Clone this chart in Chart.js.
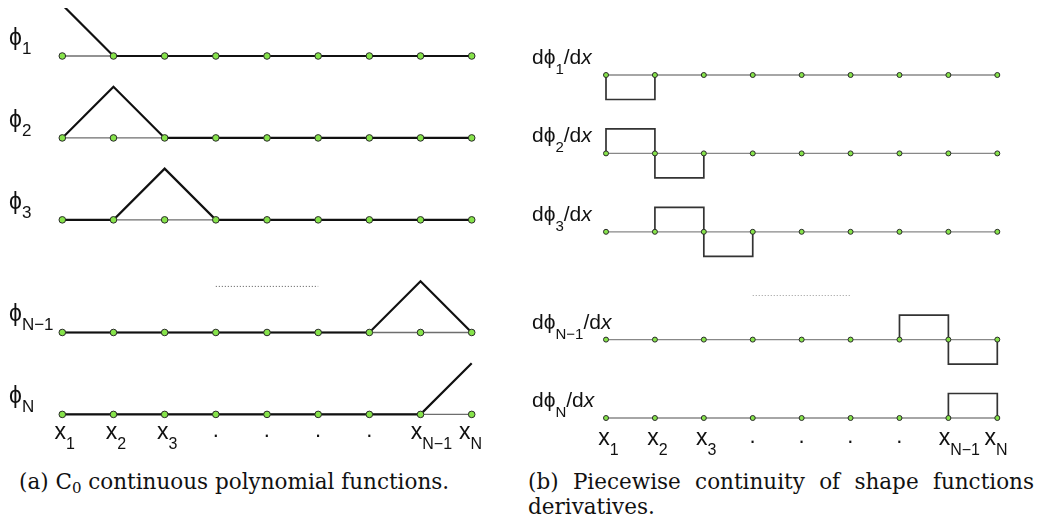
<!DOCTYPE html>
<html>
<head>
<meta charset="utf-8">
<script src="https://cdn.jsdelivr.net/npm/chart.js@4.4.1/dist/chart.umd.min.js"></script>
<style>
  body { margin: 0; background: #fff; width: 1038px; height: 520px; position: relative; overflow: hidden; }
  canvas { position: absolute; top: 0; }
  #left { left: 0; }
  #right { left: 520px; }
  .caption { position: absolute; font-family: 'DejaVu Serif', serif; font-size: 21.5px; color: #111; line-height: 25px; }
  .caption sub { font-size: 15px; vertical-align: -4px; line-height: 0; }
  #capA { left: 19px; top: 469px; }
  #capB { left: 528px; top: 469px; width: 506px; text-align: justify; }
</style>
</head>
<body>
<canvas id="left" width="520" height="460"></canvas>
<canvas id="right" width="518" height="460"></canvas>
<div class="caption" id="capA">(a) C<sub>0</sub> continuous polynomial functions.</div>
<div class="caption" id="capB">(b) Piecewise continuity of shape functions derivatives.</div>
<script>
// mesh nodes x1 ... xN
const nodes = [1, 2, 3, 4, 5, 6, 7, 8, 9];
const tickMain = ['x', 'x', 'x', '.', '.', '.', '.', 'x', 'x'];
const tickSub = ['1', '2', '3', '', '', '', '', 'N\u22121', 'N'];

// subscripts of the rows shown, top to bottom
const rowNames = ['1', '2', '3', 'N\u22121', 'N'];

// linear hat functions, value at each node
const phi1 = [1, 0, 0, 0, 0, 0, 0, 0, 0];
const phi2 = [0, 1, 0, 0, 0, 0, 0, 0, 0];
const phi3 = [0, 0, 1, 0, 0, 0, 0, 0, 0];
const phiNm1 = [0, 0, 0, 0, 0, 0, 0, 1, 0];
const phiN = [0, 0, 0, 0, 0, 0, 0, 0, 1];

// their derivatives, constant on each of the 8 elements
const dphi1 = [-1, 0, 0, 0, 0, 0, 0, 0];
const dphi2 = [1, -1, 0, 0, 0, 0, 0, 0];
const dphi3 = [0, 1, -1, 0, 0, 0, 0, 0];
const dphiNm1 = [0, 0, 0, 0, 0, 0, 1, -1];
const dphiN = [0, 0, 0, 0, 0, 0, 0, 1];

// where each row sits on its panel, plus the "....." gap row
const leftRows = [7.0, 5.4, 3.8, 1.6, 0];
const rightRows = [14.0, 10.8, 7.6, 3.2, 0];
const leftGap = 2.5;
const rightGap = 5.0;

const SANS = "'Liberation Sans', Arial, sans-serif";
const PHI = '\u03d5';
const tickShift = [-2, -2, -2, 0, 0, 0, 0, -4, -7];

const atBase = (base) => nodes.map(n => ({ x: n, y: base }));

// element-wise constant values -> open rectangles, gaps where zero
function stepPath(vals, base) {
  const out = [];
  vals.forEach((v, i) => {
    if (v === 0) {
      out.push({ x: nodes[i], y: null });
      return;
    }
    out.push({ x: nodes[i], y: base }, { x: nodes[i], y: base + v },
             { x: nodes[i + 1], y: base + v }, { x: nodes[i + 1], y: base });
  });
  return out;
}

function nodeDots(base, r) {
  return {
    data: atBase(base), showLine: false, clip: false,
    pointRadius: r, pointBackgroundColor: '#86e34a', pointBorderColor: '#2a2a2a', pointBorderWidth: 1
  };
}

function axisLine(base, color, w) {
  return { data: atBase(base), borderColor: color, borderWidth: w, pointRadius: 0, clip: false };
}

function gapLine(y, color) {
  return {
    data: [{ x: 4, y: y }, { x: 6, y: y }], borderColor: color, borderWidth: 1,
    borderDash: [1, 2], pointRadius: 0, clip: false
  };
}

// draws text pieces one after another: [text, font, dy]
function drawParts(ctx, x, y, parts) {
  parts.forEach(([text, font, dy]) => {
    ctx.font = font;
    ctx.fillText(text, x, y + dy);
    x += ctx.measureText(text).width;
  });
}

function drawTicks(ctx, xScale, y) {
  nodes.forEach((n, i) => {
    const px = xScale.getPixelForValue(n) + tickShift[i];
    ctx.font = '23px ' + SANS;
    const w = ctx.measureText(tickMain[i]).width;
    if (tickMain[i] === '.') {
      drawParts(ctx, px - w / 2, y, [['.', '22px ' + SANS, -2]]);
    } else {
      drawParts(ctx, px - w / 2, y, [['x', '23px ' + SANS, 0], [tickSub[i], '16px ' + SANS, 10]]);
    }
  });
}

const leftLabels = {
  id: 'leftLabels',
  afterDraw(chart) {
    const { ctx, scales: { x, y } } = chart;
    ctx.save();
    ctx.fillStyle = '#111';
    leftRows.forEach((base, i) => {
      const py = y.getPixelForValue(base);
      drawParts(ctx, 9, py - 11, [[PHI, '23px ' + SANS, 0], [rowNames[i], '17px ' + SANS, 9]]);
    });
    drawTicks(ctx, x, y.getPixelForValue(0) + 25);
    ctx.restore();
  }
};

const rightLabels = {
  id: 'rightLabels',
  afterDraw(chart) {
    const { ctx, scales: { x, y } } = chart;
    ctx.save();
    ctx.fillStyle = '#111';
    rightRows.forEach((base, i) => {
      const py = y.getPixelForValue(base);
      drawParts(ctx, 12, py - 11, [
        ['d' + PHI, '21px ' + SANS, 0],
        [rowNames[i], '15px ' + SANS, 10],
        ['/d', '21px ' + SANS, 0],
        ['x', 'italic 21px ' + SANS, 0]
      ]);
    });
    drawTicks(ctx, x, y.getPixelForValue(0) + 27);
    ctx.restore();
  }
};

function panel(id, datasets, view, labels) {
  return new Chart(document.getElementById(id), {
    type: 'line',
    data: { datasets },
    options: {
      responsive: false,
      animation: false,
      events: [],
      layout: { autoPadding: false, padding: view.padding },
      plugins: { legend: { display: false }, tooltip: { enabled: false } },
      scales: {
        x: { type: 'linear', min: 1, max: 9, display: false },
        y: { type: 'linear', min: view.min, max: view.max, display: false }
      }
    },
    plugins: [labels]
  });
}

// left: hat functions
const hats = [phi1, phi2, phi3, phiNm1, phiN];
const leftSets = [];
leftRows.forEach(b => leftSets.push(nodeDots(b, 3.3)));
hats.forEach((f, i) => leftSets.push({
  data: f.map((v, j) => ({ x: nodes[j], y: leftRows[i] + v })),
  borderColor: '#111', borderWidth: 2.2, pointRadius: 0,
  clip: { left: 10, right: 10, top: 0, bottom: 10 }
}));
leftRows.forEach(b => leftSets.push(axisLine(b, '#6e6e6e', 1.4)));
leftSets.push(gapLine(leftGap, '#555'));

panel('left', leftSets, {
  min: -0.8125, max: 7.9375,
  padding: { left: 62.3, right: 48.3, top: 8, bottom: 4 }
}, leftLabels);

// right: piecewise constant derivatives
const slopes = [dphi1, dphi2, dphi3, dphiNm1, dphiN];
const rightSets = [];
rightRows.forEach(b => rightSets.push(nodeDots(b, 2.5)));
slopes.forEach((d, i) => rightSets.push({
  data: stepPath(d, rightRows[i]),
  borderColor: '#333', borderWidth: 1.7, pointRadius: 0, spanGaps: false, clip: false
}));
rightRows.forEach(b => rightSets.push(axisLine(b, '#888', 1.3)));
rightSets.push(gapLine(rightGap, '#999'));

panel('right', rightSets, {
  min: -1.551, max: 16.245,
  padding: { left: 86, right: 40.7, top: 20, bottom: 4 }
}, rightLabels);
</script>
</body>
</html>
